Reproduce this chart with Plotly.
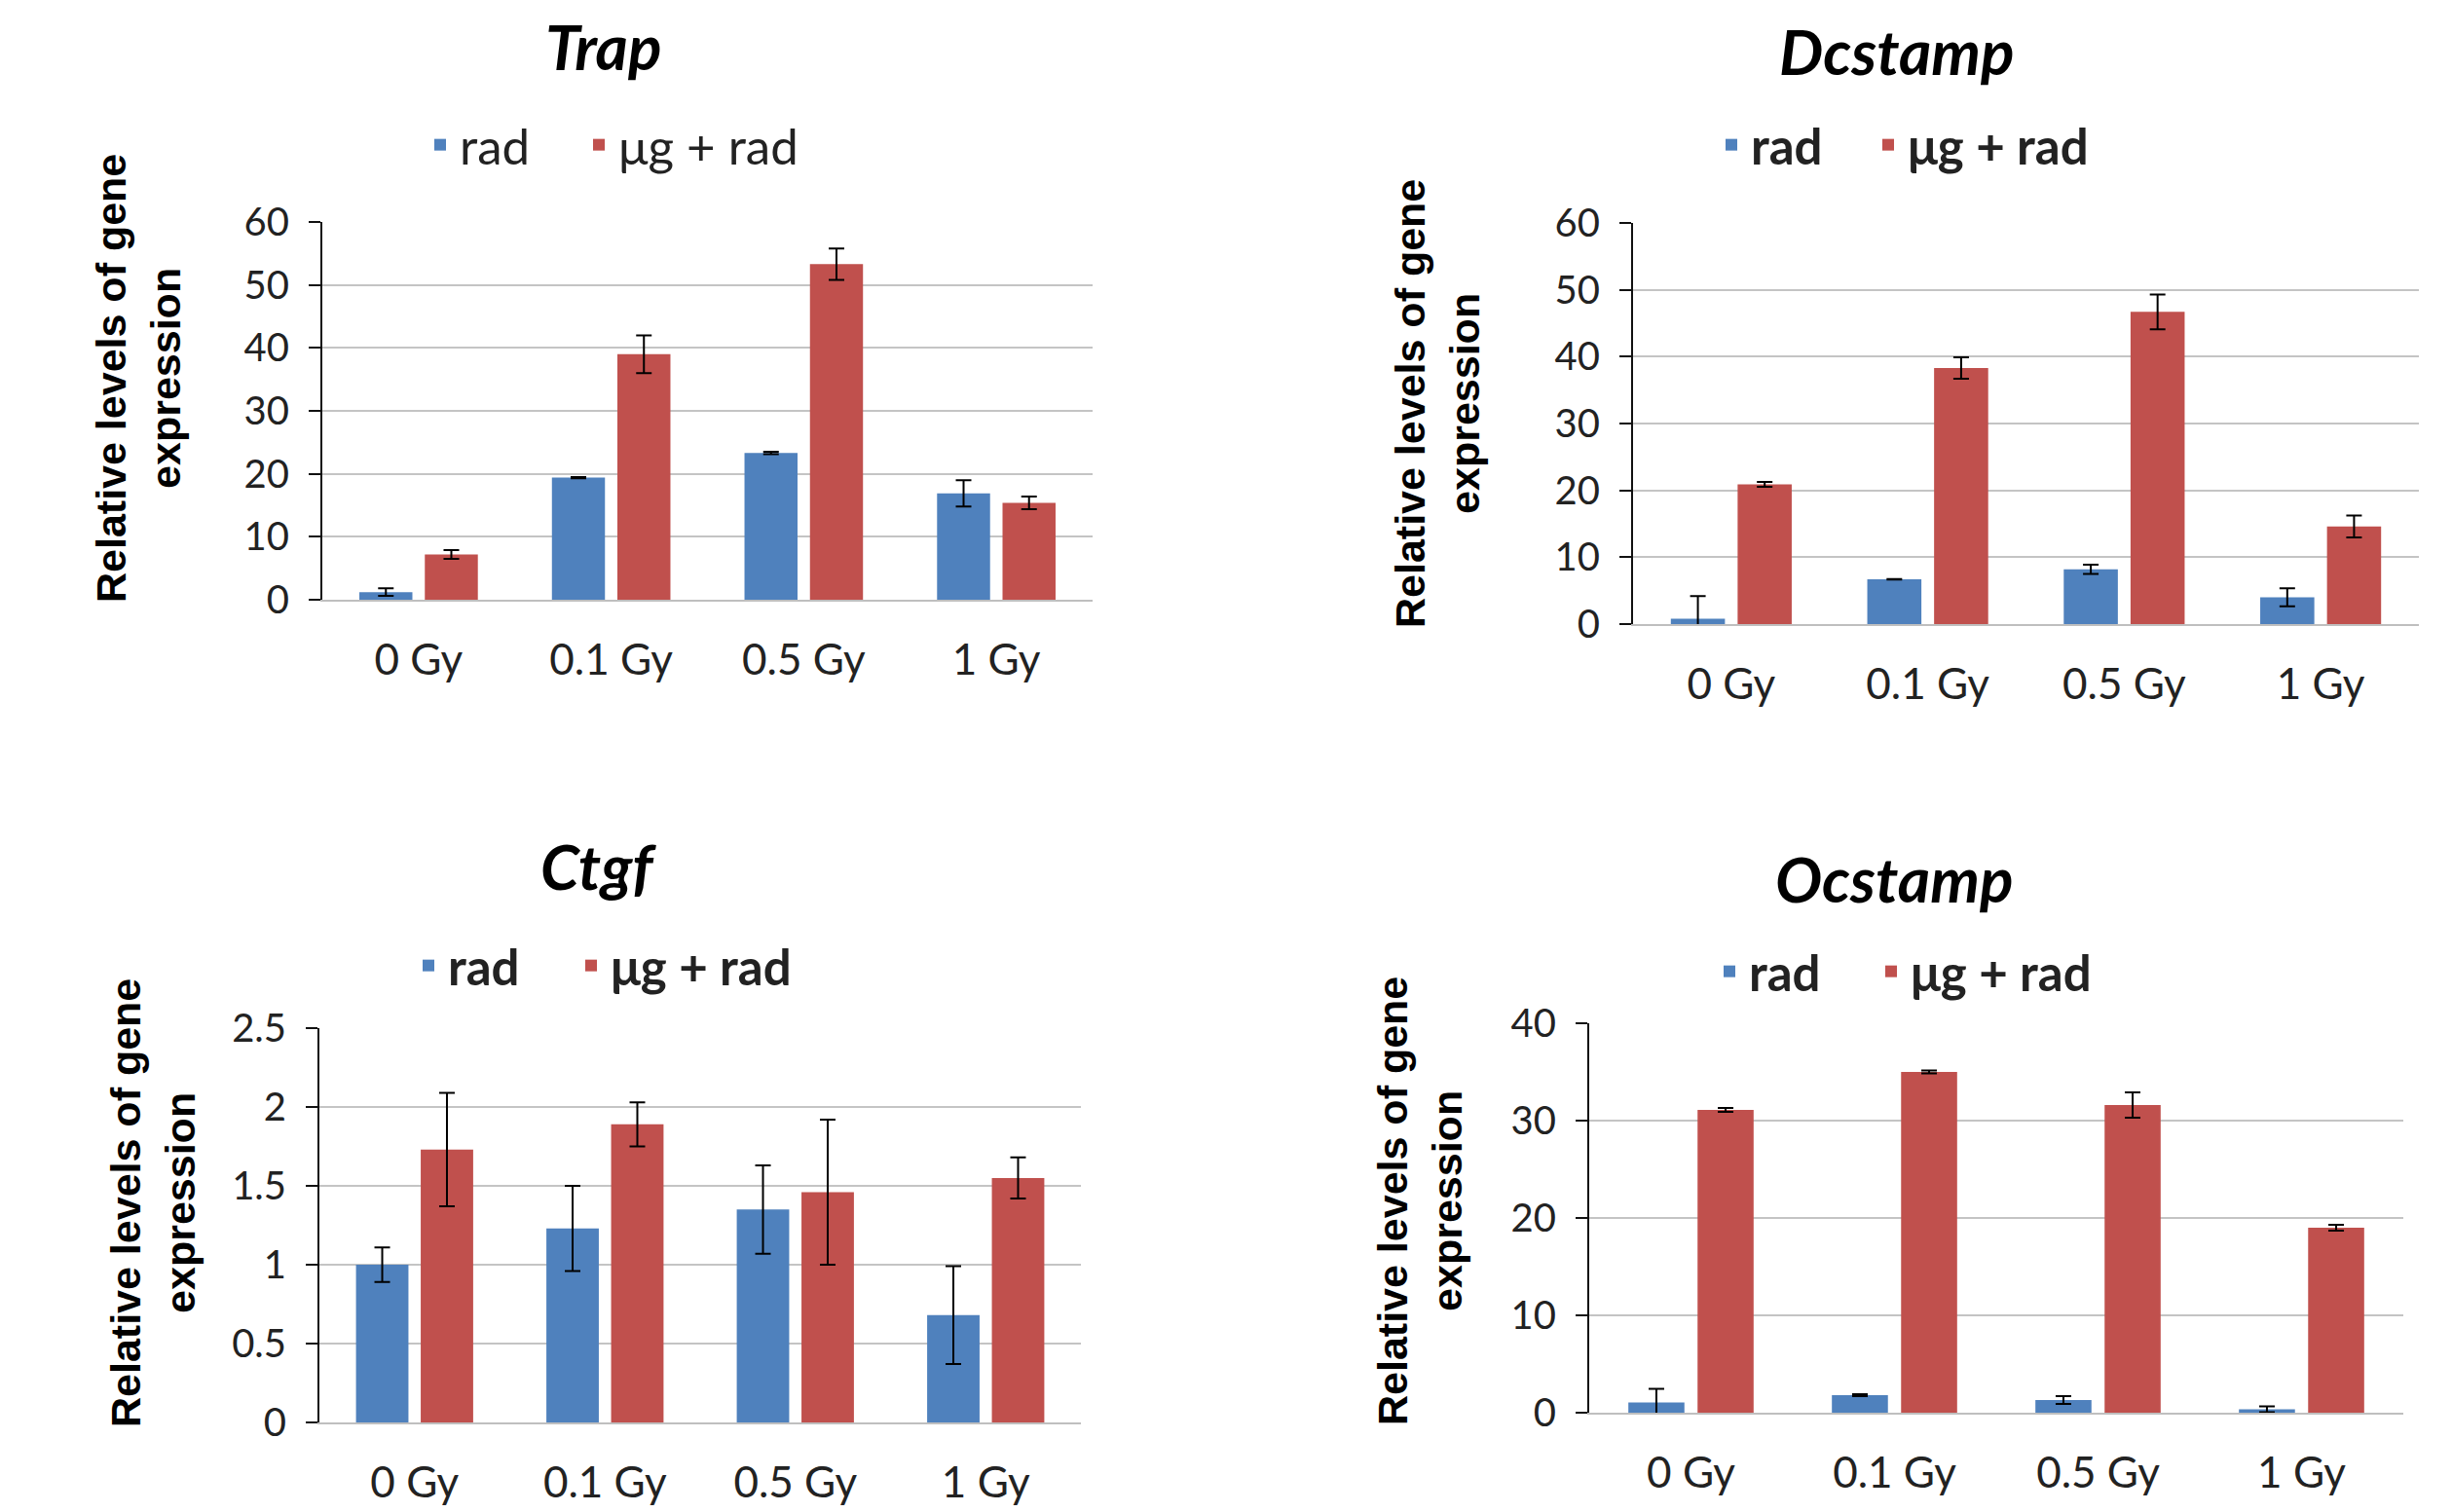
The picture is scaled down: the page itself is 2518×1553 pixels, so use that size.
import plotly.graph_objects as go

W, H = 2518, 1553

categories = ["0 Gy", "0.1 Gy", "0.5 Gy", "1 Gy"]
series_names = ["rad", "μg + rad"]
colors = ["#4F81BD", "#C0504D"]

trap_rad = [1.2, 19.4, 23.3, 16.9]
trap_rad_err = [0.6, 0.1, 0.2, 2.1]
trap_mg = [7.2, 39.0, 53.3, 15.4]
trap_mg_err = [0.7, 3.0, 2.5, 1.0]

dc_rad = [0.8, 6.7, 8.2, 4.0]
dc_rad_err = [3.4, 0.05, 0.7, 1.35]
dc_mg = [20.9, 38.3, 46.7, 14.6]
dc_mg_err = [0.35, 1.6, 2.6, 1.65]

ctgf_rad = [1.0, 1.23, 1.35, 0.68]
ctgf_rad_err = [0.11, 0.27, 0.28, 0.31]
ctgf_mg = [1.73, 1.89, 1.46, 1.55]
ctgf_mg_err = [0.36, 0.14, 0.46, 0.13]

oc_rad = [1.06, 1.8, 1.3, 0.35]
oc_rad_err = [1.4, 0.1, 0.4, 0.3]
oc_mg = [31.1, 35.0, 31.6, 19.0]
oc_mg_err = [0.2, 0.15, 1.3, 0.3]

titles = ["Trap", "Dcstamp", "Ctgf", "Ocstamp"]
y_ranges = [[0, 60], [0, 60], [0, 2.5], [0, 40]]
y_dticks = [10, 10, 0.5, 10]

panels = [
    (trap_rad, trap_rad_err, trap_mg, trap_mg_err),
    (dc_rad, dc_rad_err, dc_mg, dc_mg_err),
    (ctgf_rad, ctgf_rad_err, ctgf_mg, ctgf_mg_err),
    (oc_rad, oc_rad_err, oc_mg, oc_mg_err),
]

# page body offset compensation (pixels)
OFF_X, OFF_Y = 6, 9

def px_x(v):
    return (v - OFF_X) / W

def px_y(v):
    return 1 - (v - OFF_Y) / H

plot_boxes = [  # left, right, top, bottom (pixels)
    (329, 1120, 229, 617),
    (1675, 2482, 230, 642),
    (326, 1108, 1057, 1462),
    (1630, 2466, 1052, 1452),
]
title_pos = [(617, 45), (1946, 53), (612, 891), (1943, 903)]
# swatch centre x for (rad, μg + rad) and vertical centre y per panel
legend_x = [(450, 613), (1776, 1937), (438, 605), (1774, 1940)]
legend_y = [150, 150, 993, 999]
ytitle_pos = [(140, 390), (1474, 416), (155, 1237), (1456, 1235)]
legend_bold = [False, True, True, True]

TICK_FONT = "Lato, sans-serif"

fig = go.Figure()

def legend_key(n):
    return "legend" if n == 0 else f"legend{n+1}"

for i, (rad, rad_e, mg, mg_e) in enumerate(panels):
    xa = "x" if i == 0 else f"x{i+1}"
    ya = "y" if i == 0 else f"y{i+1}"
    for j, (name, vals, errs, col) in enumerate([
        (series_names[0], rad, rad_e, colors[0]),
        (series_names[1], mg, mg_e, colors[1]),
    ]):
        fig.add_trace(go.Bar(
            x=categories, y=vals, name=name, marker_color=col,
            marker_line_width=0,
            error_y=dict(type="data", array=errs, visible=True,
                         color="black", thickness=2, width=8),
            xaxis=xa, yaxis=ya, legend=legend_key(2 * i + j),
        ))

layout = dict(
    width=W, height=H,
    margin=dict(l=0, r=0, t=0, b=0, autoexpand=False),
    paper_bgcolor="white", plot_bgcolor="white",
    barmode="group", bargap=0.32, bargroupgap=0.19,
    showlegend=True, annotations=[],
)

for i in range(4):
    l, r, t, b = plot_boxes[i]
    xk = "xaxis" if i == 0 else f"xaxis{i+1}"
    yk = "yaxis" if i == 0 else f"yaxis{i+1}"
    ya = "y" if i == 0 else f"y{i+1}"
    xa = "x" if i == 0 else f"x{i+1}"
    layout[xk] = dict(
        domain=[px_x(l), px_x(r)], anchor=ya,
        showline=True, linecolor="#BFBFBF", linewidth=2,
        ticks="", showgrid=False, zeroline=False,
        tickfont=dict(family=TICK_FONT, size=44, color="#222"),
        ticklabelstandoff=22,
    )
    layout[yk] = dict(
        domain=[px_y(b), px_y(t)], anchor=xa,
        range=y_ranges[i], dtick=y_dticks[i], tick0=0,
        showline=True, linecolor="#111111", linewidth=2,
        ticks="outside", ticklen=12, tickcolor="#111111", tickwidth=2,
        showgrid=True, gridcolor="#C4C4C4", gridwidth=2, zeroline=False,
        tickfont=dict(family=TICK_FONT, size=40, color="#222"),
        ticklabelstandoff=12,
    )
    for j in range(2):
        layout[legend_key(2 * i + j)] = dict(
            orientation="h", x=px_x(legend_x[i][j] - 20), y=px_y(legend_y[i]),
            xanchor="left", yanchor="middle",
            font=dict(family=TICK_FONT, size=51, color="#222",
                      weight="bold" if legend_bold[i] else "normal"),
            bgcolor="rgba(0,0,0,0)", itemwidth=30,
        )
    tx, ty = title_pos[i]
    if i == 0:
        ann_y, ann_anchor = 1.0, "top"
    else:
        ann_y, ann_anchor = px_y(ty), "middle"
    layout["annotations"].append(dict(
        text=f"<b><i>{titles[i]}</i></b>", xref="paper", yref="paper",
        x=px_x(tx), y=ann_y, xanchor="center", yanchor=ann_anchor,
        showarrow=False, borderpad=0,
        font=dict(family="Lato, sans-serif", size=64, color="black"),
    ))
    yx, yy = ytitle_pos[i]
    layout["annotations"].append(dict(
        text="<b>Relative levels of gene<br>expression</b>",
        xref="paper", yref="paper", x=px_x(yx), y=px_y(yy),
        xanchor="center", yanchor="middle", textangle=-90,
        showarrow=False,
        font=dict(family="Liberation Sans, Arial, sans-serif", size=43,
                  color="black"),
    ))

fig.update_layout(**layout)
fig.write_html("out.html")
